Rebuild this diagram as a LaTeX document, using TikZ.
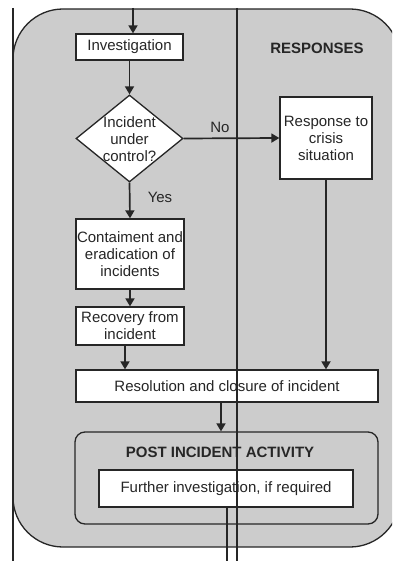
\documentclass[tikz,border=0pt]{standalone}
\usepackage{fontspec}
\setmainfont{Liberation Sans}
\usetikzlibrary{arrows.meta,shapes.geometric}
\definecolor{lanebg}{HTML}{CCCCCC}
\definecolor{ink}{HTML}{262626}
\begin{document}
\begin{tikzpicture}[x=1bp,y=-1bp,
  font=\fontsize{15bp}{17bp}\selectfont,
  every node/.style={text=ink},
  box/.style={draw=ink, fill=white, line width=1.3bp, align=center, inner sep=0pt},
  decision/.style={diamond, draw=ink, fill=white, line width=1.3bp, inner sep=0pt},
  group/.style={draw=ink, line width=1.3bp, rounded corners=10bp, inner sep=0pt},
  flow/.style={draw=ink, line width=1.7bp, -{Triangle[length=8bp,width=9bp]}},
  plain/.style={draw=ink, line width=1.3bp},
  title/.style={font=\fontsize{15bp}{17bp}\selectfont\bfseries}]
\useasboundingbox (0,0) rectangle (392,561);

% swimlane background
\begin{scope}
  \clip (0,0) rectangle (392,561);
  \draw[fill=lanebg, draw=ink, line width=1.3bp, rounded corners=50bp] (13,9) rectangle (400,547);
\end{scope}
\draw[ink, line width=2.2bp] (13,8) -- (13,561);

\node[title] (resp-title) at (317,48) {RESPONSES};

% flow nodes
\node[box, minimum width=107bp, minimum height=26bp] (inv) at (129.5,47) {Investigation};
\node[decision, minimum width=107bp, minimum height=87bp] (dec) at (129.5,138.5) {};
\node[align=center, inner sep=0pt] (dec-text) at (129.5,139) {Incident\\under\\control?};
\node[box, minimum width=92bp, minimum height=82bp] (crisis) at (326,138) {Response to\\crisis\\situation};
\node[box, minimum width=108bp, minimum height=70bp] (cont) at (130,254) {Contaiment and\\eradication of\\incidents};
\node[box, minimum width=108bp, minimum height=38bp] (rec) at (130,326) {Recovery from\\incident};
\node[box, minimum width=302bp, minimum height=32bp] (res) at (227,386) {Resolution and closure of incident};
\node[group, minimum width=303bp, minimum height=92bp] (post) at (226.5,478) {};
\node[title] (post-title) at (220,452) {POST INCIDENT ACTIVITY};
\node[box, minimum width=254bp, minimum height=37bp] (further) at (226,488.5) {Further investigation, if required};

% labels
\node (no) at (220,127) {No};
\node (yes) at (160,197) {Yes};

% connectors
\coordinate (entry) at (133,8);
\coordinate (exit) at (227,561);
\draw[flow] (entry) -- (entry |- inv.north);
\draw[flow] (inv.south) -- (dec.north);
\draw[flow] (dec.east) -- (crisis.west);
\draw[flow] (dec.south) -- (cont.north);
\draw[flow] (cont.south) -- (rec.north);
\draw[flow] ([xshift=-5bp]rec.south) -- ([xshift=-5bp]rec.south |- res.north);
\draw[flow] (crisis.south) -- (crisis.south |- res.north);
\draw[flow] ([xshift=-6bp]res.south) -- ([xshift=-6bp]res.south |- post.north);
\draw[plain] (further.south -| exit) -- (exit);

% lane divider, drawn over everything
\coordinate (div-top) at (237,8);
\coordinate (div-bot) at (237,561);
\draw[plain] (div-top) -- (div-bot);
\end{tikzpicture}
\end{document}
